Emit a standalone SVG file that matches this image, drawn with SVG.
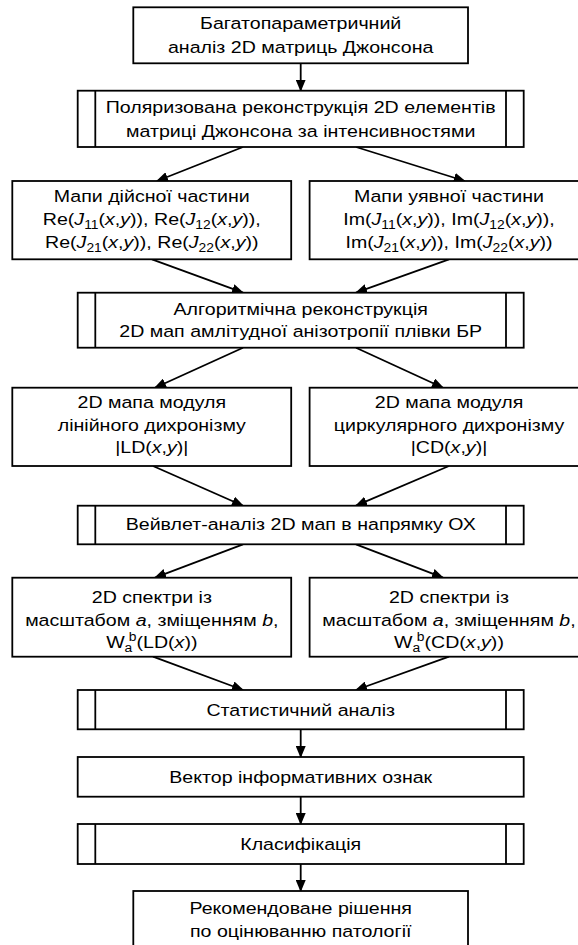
<svg xmlns="http://www.w3.org/2000/svg" width="578" height="945" viewBox="0 0 578 945">
<style>
.b{fill:#fff;stroke:#000;stroke-width:1.8}
.v{stroke:#000;stroke-width:1.8}
.c{stroke:#000;stroke-width:1.8;fill:none;marker-end:url(#ah)}
.t{font-family:"Liberation Sans",Arial,sans-serif;font-size:17px;fill:#000;text-anchor:middle}
.i{font-style:italic}
.s{font-size:12px}
</style>
<defs>
<marker id="ah" viewBox="0 0 12 10" refX="11" refY="5" markerWidth="12" markerHeight="10" markerUnits="userSpaceOnUse" orient="auto">
<path d="M0,0 L12,5 L0,10 z" fill="#000"/>
</marker>
</defs>
<rect width="578" height="945" fill="#fff"/>
<g id="connectors">
<line class="c" x1="300.7" y1="63.3" x2="300.7" y2="90.7"/>
<line class="c" x1="243" y1="147" x2="157" y2="181"/>
<line class="c" x1="356" y1="147" x2="464.7" y2="181"/>
<line class="c" x1="152" y1="259.3" x2="243" y2="292.7"/>
<line class="c" x1="449" y1="259.3" x2="356" y2="292.7"/>
<line class="c" x1="243" y1="347.7" x2="155" y2="387.7"/>
<line class="c" x1="356" y1="347.7" x2="443" y2="387.7"/>
<line class="c" x1="153" y1="466" x2="243" y2="505.7"/>
<line class="c" x1="449" y1="466" x2="356" y2="505.7"/>
<line class="c" x1="243" y1="544.3" x2="155" y2="577.7"/>
<line class="c" x1="356" y1="544.3" x2="443" y2="577.7"/>
<line class="c" x1="153" y1="656.7" x2="243" y2="690"/>
<line class="c" x1="449" y1="656.7" x2="356" y2="690"/>
<line class="c" x1="300.7" y1="729.3" x2="300.7" y2="757"/>
<line class="c" x1="300.7" y1="796.7" x2="300.7" y2="824"/>
<line class="c" x1="300.7" y1="864" x2="300.7" y2="891"/>
</g>
<g id="n1">
<rect class="b" x="133.3" y="7.3" width="334.7" height="56"/>
<text class="t" transform="matrix(1.153 0 0 1 300.7 0)"><tspan x="0" y="29.5">Багатопараметричний</tspan><tspan x="0" y="53">аналіз 2D матриць Джонсона</tspan></text>
</g>
<g id="n2">
<rect class="b" x="77.7" y="90.7" width="446" height="56.3"/>
<line class="v" x1="95.3" y1="90.7" x2="95.3" y2="147"/>
<line class="v" x1="506" y1="90.7" x2="506" y2="147"/>
<text class="t" transform="matrix(1.153 0 0 1 300.7 0)"><tspan x="0" y="113.3">Поляризована реконструкція 2D елементів</tspan><tspan x="0" y="136.7">матриці Джонсона за інтенсивностями</tspan></text>
</g>
<g id="n3">
<rect class="b" x="12.3" y="181" width="278.9" height="78.3"/>
<text class="t" transform="matrix(1.153 0 0 1 151.8 0)"><tspan x="0" y="201.7">Мапи дійсної частини</tspan><tspan x="0" y="224.7">Re(<tspan class="i">J</tspan><tspan class="s" dy="4">11</tspan><tspan dy="-4">(</tspan><tspan class="i">x</tspan>,<tspan class="i">y</tspan>)), Re(<tspan class="i">J</tspan><tspan class="s" dy="4">12</tspan><tspan dy="-4">(</tspan><tspan class="i">x</tspan>,<tspan class="i">y</tspan>)),</tspan><tspan x="0" y="247.7">Re(<tspan class="i">J</tspan><tspan class="s" dy="4">21</tspan><tspan dy="-4">(</tspan><tspan class="i">x</tspan>,<tspan class="i">y</tspan>)), Re(<tspan class="i">J</tspan><tspan class="s" dy="4">22</tspan><tspan dy="-4">(</tspan><tspan class="i">x</tspan>,<tspan class="i">y</tspan>))</tspan></text>
</g>
<g id="n4">
<rect class="b" x="309.6" y="181" width="279.4" height="78.3"/>
<text class="t" transform="matrix(1.153 0 0 1 449 0)"><tspan x="0" y="201.7">Мапи уявної частини</tspan><tspan x="0" y="224.7">Im(<tspan class="i">J</tspan><tspan class="s" dy="4">11</tspan><tspan dy="-4">(</tspan><tspan class="i">x</tspan>,<tspan class="i">y</tspan>)), Im(<tspan class="i">J</tspan><tspan class="s" dy="4">12</tspan><tspan dy="-4">(</tspan><tspan class="i">x</tspan>,<tspan class="i">y</tspan>)),</tspan><tspan x="0" y="247.7">Im(<tspan class="i">J</tspan><tspan class="s" dy="4">21</tspan><tspan dy="-4">(</tspan><tspan class="i">x</tspan>,<tspan class="i">y</tspan>)), Im(<tspan class="i">J</tspan><tspan class="s" dy="4">22</tspan><tspan dy="-4">(</tspan><tspan class="i">x</tspan>,<tspan class="i">y</tspan>))</tspan></text>
</g>
<g id="n5">
<rect class="b" x="77.7" y="292.7" width="446" height="55"/>
<line class="v" x1="95.3" y1="292.7" x2="95.3" y2="347.7"/>
<line class="v" x1="506" y1="292.7" x2="506" y2="347.7"/>
<text class="t" transform="matrix(1.153 0 0 1 300.7 0)"><tspan x="0" y="314.8">Алгоритмічна реконструкція</tspan><tspan x="0" y="337.5">2D мап амлітудної анізотропії плівки БР</tspan></text>
</g>
<g id="n6">
<rect class="b" x="12.3" y="387.7" width="278.9" height="78.3"/>
<text class="t" transform="matrix(1.153 0 0 1 151.8 0)"><tspan x="0" y="407.7">2D мапа модуля</tspan><tspan x="0" y="430.7">лінійного дихронізму</tspan><tspan x="0" y="453.5">|LD(<tspan class="i">x</tspan>,<tspan class="i">y</tspan>)|</tspan></text>
</g>
<g id="n7">
<rect class="b" x="309.6" y="387.7" width="279.4" height="78.3"/>
<text class="t" transform="matrix(1.153 0 0 1 449 0)"><tspan x="0" y="407.7">2D мапа модуля</tspan><tspan x="0" y="430.7">циркулярного дихронізму</tspan><tspan x="0" y="453.5">|CD(<tspan class="i">x</tspan>,<tspan class="i">y</tspan>)|</tspan></text>
</g>
<g id="n8">
<rect class="b" x="77.7" y="505.7" width="446" height="38.6"/>
<line class="v" x1="95.3" y1="505.7" x2="95.3" y2="544.3"/>
<line class="v" x1="506" y1="505.7" x2="506" y2="544.3"/>
<text class="t" transform="matrix(1.153 0 0 1 300.7 0)"><tspan x="0" y="530.5">Вейвлет-аналіз 2D мап в напрямку ОХ</tspan></text>
</g>
<g id="n9">
<rect class="b" x="12.3" y="577.7" width="278.9" height="79"/>
<text class="t" transform="matrix(1.153 0 0 1 151.8 0)"><tspan x="0" y="603.5">2D спектри із</tspan><tspan x="0" y="626">масштабом <tspan class="i">a</tspan>, зміщенням <tspan class="i">b</tspan>,</tspan><tspan x="0" y="648.3">W<tspan class="s" dy="4">a</tspan><tspan class="s" dx="-3" dy="-11">b</tspan><tspan dy="7">(LD(</tspan><tspan class="i">x</tspan>))</tspan></text>
</g>
<g id="n10">
<rect class="b" x="309.6" y="577.7" width="279.4" height="79"/>
<text class="t" transform="matrix(1.153 0 0 1 449 0)"><tspan x="0" y="603.5">2D спектри із</tspan><tspan x="0" y="626">масштабом <tspan class="i">a</tspan>, зміщенням <tspan class="i">b</tspan>,</tspan><tspan x="0" y="648.3">W<tspan class="s" dy="4">a</tspan><tspan class="s" dx="-3" dy="-11">b</tspan><tspan dy="7">(CD(</tspan><tspan class="i">x</tspan>,<tspan class="i">y</tspan>))</tspan></text>
</g>
<g id="n11">
<rect class="b" x="77.7" y="690" width="446" height="39.3"/>
<line class="v" x1="95.3" y1="690" x2="95.3" y2="729.3"/>
<line class="v" x1="506" y1="690" x2="506" y2="729.3"/>
<text class="t" transform="matrix(1.153 0 0 1 300.7 0)"><tspan x="0" y="716">Статистичний аналіз</tspan></text>
</g>
<g id="n12">
<rect class="b" x="77.7" y="757" width="446" height="39.7"/>
<text class="t" transform="matrix(1.153 0 0 1 300.7 0)"><tspan x="0" y="783.3">Вектор інформативних ознак</tspan></text>
</g>
<g id="n13">
<rect class="b" x="77.7" y="824" width="446" height="40"/>
<line class="v" x1="95.3" y1="824" x2="95.3" y2="864"/>
<line class="v" x1="506" y1="824" x2="506" y2="864"/>
<text class="t" transform="matrix(1.153 0 0 1 300.7 0)"><tspan x="0" y="850">Класифікація</tspan></text>
</g>
<g id="n14">
<rect class="b" x="133.3" y="891" width="334.7" height="70"/>
<text class="t" transform="matrix(1.153 0 0 1 300.7 0)"><tspan x="0" y="914.3">Рекомендоване рішення</tspan><tspan x="0" y="937">по оцінюванню патології</tspan></text>
</g>
</svg>
